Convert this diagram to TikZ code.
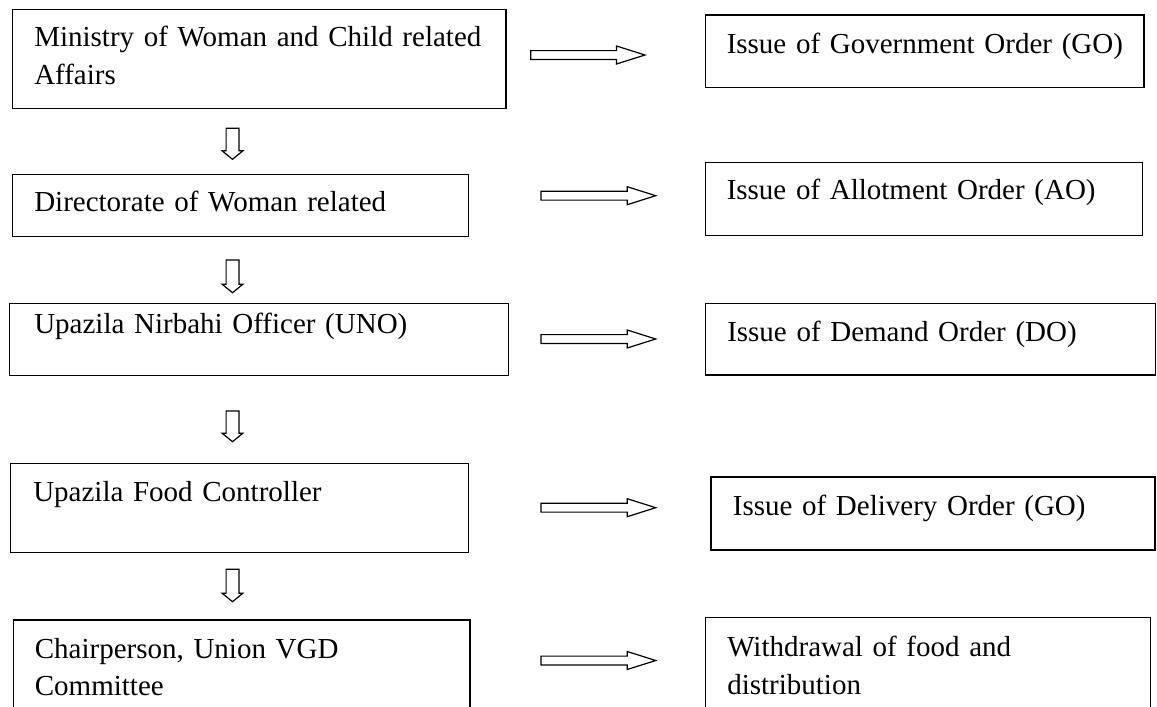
\documentclass[tikz,border=0pt]{standalone}
\usepackage{fontspec}
\setmainfont{Liberation Serif}
\usetikzlibrary{calc,fit}

% hollow block arrow pointing right, from tail coordinate #1 to tip coordinate #2
\newcommand\hollowright[2]{%
  \draw[blockarrow] ($(#1)+(0,-4.4)$) -- ($(#2)+(-28.5,-4.4)$) -- ($(#2)+(-28.5,-9)$)
    -- (#2) -- ($(#2)+(-28.5,9)$) -- ($(#2)+(-28.5,4.4)$) -- ($(#1)+(0,4.4)$) -- cycle;}
% small hollow arrow pointing down, from top coordinate #1 to tip coordinate #2
\newcommand\hollowdown[2]{%
  \draw[blockarrow] ($(#1)+(-6.4,0)$) -- ($(#2)+(-6.4,-8.5)$) -- ($(#2)+(-10.4,-8.5)$)
    -- (#2) -- ($(#2)+(10.4,-8.5)$) -- ($(#2)+(6.4,-8.5)$) -- ($(#1)+(6.4,0)$) -- cycle;}

\begin{document}
\begin{tikzpicture}[x=0.75pt,y=-0.75pt,
  box/.style={draw=black,line width=1pt,inner sep=0pt,rectangle},
  txt/.style={anchor=base west,inner sep=0pt,text width=440pt,align=left,
    font=\fontsize{21.75pt}{28.1pt}\selectfont},
  blockarrow/.style={draw=black,line width=0.9pt,fill=white,line join=miter}]
\useasboundingbox (0,0) rectangle (1157,707);
\clip (0,0) rectangle (1157,707);

% left column: offices
\node[box,fit={(12.5,9.3) (506,108.7)}]   (min)   {};
\node[box,fit={(12.5,174.3) (468.3,236.7)}] (dir) {};
\node[box,fit={(9.6,303.3) (508.3,375.7)}]  (uno) {};
\node[box,fit={(10.7,463.3) (468.3,552.3)}] (food) {};
\node[box,fit={(13.2,620) (470,730)}]       (chair) {};

% right column: actions
\node[box,fit={(705.7,15) (1144,87.3)}]      (go)  {};
\node[box,fit={(705.7,162.3) (1142.8,235.3)}] (ao) {};
\node[box,fit={(705.7,303.3) (1155.5,375)}]  (do)  {};
\node[box,fit={(711,477) (1155,550)}]        (del) {};
\node[box,fit={(705.7,617.7) (1150.5,730)}]  (wd)  {};

% labels
\node[txt] (mint)   at (34,46.7)   {Ministry of Woman and Child related\\Affairs};
\node[txt] (dirt)   at (34,211.7)  {Directorate of Woman related};
\node[txt] (unot)   at (34,333.3)  {Upazila Nirbahi Officer (UNO)};
\node[txt] (foodt)  at (33,501.7)  {Upazila Food Controller};
\node[txt] (chairt) at (34.6,658.3) {Chairperson, Union VGD\\Committee};

\node[txt] (got)  at (726.5,53.3) {Issue of Government Order (GO)};
\node[txt] (aot)  at (726.5,199)  {Issue of Allotment Order (AO)};
\node[txt] (dot)  at (727,341.7)  {Issue of Demand Order (DO)};
\node[txt] (delt) at (732.6,515)  {Issue of Delivery Order (GO)};
\node[txt] (wdt)  at (727,656.7)  {Withdrawal of food and\\distribution};

% arrow end points
\coordinate (r1a) at (530.7,55);  \coordinate (r1b) at (645,55);
\coordinate (r2a) at (541,195.7); \coordinate (r2b) at (655.7,195.7);
\coordinate (r3a) at (541,339);   \coordinate (r3b) at (655.7,339);
\coordinate (r4a) at (541,507.7); \coordinate (r4b) at (655.7,507.7);
\coordinate (r5a) at (541,660.5); \coordinate (r5b) at (655.7,660.5);

\coordinate (d1a) at (232.5,128.3); \coordinate (d1b) at (232.5,159.3);
\coordinate (d2a) at (232.5,260);   \coordinate (d2b) at (232.5,292.7);
\coordinate (d3a) at (232.5,411);   \coordinate (d3b) at (232.5,441.7);
\coordinate (d4a) at (232.5,569.3); \coordinate (d4b) at (232.5,601.7);

\hollowright{r1a}{r1b}
\hollowright{r2a}{r2b}
\hollowright{r3a}{r3b}
\hollowright{r4a}{r4b}
\hollowright{r5a}{r5b}

\hollowdown{d1a}{d1b}
\hollowdown{d2a}{d2b}
\hollowdown{d3a}{d3b}
\hollowdown{d4a}{d4b}
\end{tikzpicture}
\end{document}
